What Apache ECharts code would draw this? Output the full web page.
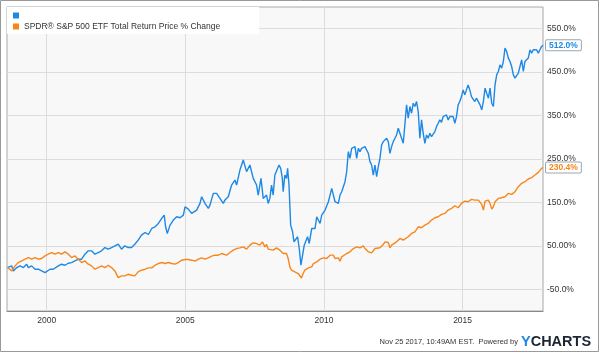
<!DOCTYPE html>
<html>
<head>
<meta charset="utf-8">
<script src="https://cdn.jsdelivr.net/npm/echarts@6/dist/echarts.min.js"></script>
<style>
  html, body { margin: 0; padding: 0; background: #fff; }
  #chart { width: 600px; height: 353px; }
</style>
</head>
<body>
<div id="chart"></div>
<script>
// series names
var blueName = ' ';
var orangeName = 'SPDR\u00ae S&P 500 ETF Total Return Price % Change';

// blue series (unnamed ticker), % change
var blueYears = [
  1998.59, 1998.62, 1998.74, 1998.80, 1998.92, 1999.04, 1999.16, 1999.28, 1999.34, 1999.46,
  1999.58, 1999.70, 1999.82, 1999.94, 2000.00, 2000.12, 2000.24, 2000.30, 2000.42, 2000.54,
  2000.66, 2000.78, 2000.90, 2001.02, 2001.14, 2001.26, 2001.38, 2001.50, 2001.62, 2001.74,
  2001.86, 2001.98, 2002.10, 2002.22, 2002.34, 2002.46, 2002.58, 2002.70, 2002.82, 2002.94,
  2003.06, 2003.18, 2003.30, 2003.42, 2003.55, 2003.67, 2003.79, 2003.91, 2004.03, 2004.15,
  2004.24, 2004.29, 2004.35, 2004.45, 2004.57, 2004.69, 2004.81, 2004.93, 2004.99, 2005.11,
  2005.23, 2005.29, 2005.41, 2005.53, 2005.59, 2005.71, 2005.83, 2005.89, 2006.01, 2006.13,
  2006.25, 2006.37, 2006.43, 2006.55, 2006.67, 2006.79, 2006.85, 2006.97, 2007.09, 2007.21,
  2007.33, 2007.45, 2007.57, 2007.63, 2007.73, 2007.81, 2007.93, 2007.99, 2008.05, 2008.11,
  2008.17, 2008.23, 2008.29, 2008.38, 2008.44, 2008.50, 2008.53, 2008.59, 2008.65, 2008.69,
  2008.74, 2008.80, 2008.87, 2008.92, 2008.99, 2009.05, 2009.11, 2009.17, 2009.23, 2009.29,
  2009.35, 2009.41, 2009.47, 2009.56, 2009.62, 2009.68, 2009.74, 2009.80, 2009.86, 2009.92,
  2009.98, 2010.04, 2010.10, 2010.16, 2010.22, 2010.28, 2010.34, 2010.40, 2010.46, 2010.52,
  2010.58, 2010.64, 2010.70, 2010.76, 2010.82, 2010.88, 2010.94, 2011.00, 2011.06, 2011.12,
  2011.18, 2011.24, 2011.30, 2011.36, 2011.42, 2011.48, 2011.54, 2011.60, 2011.66, 2011.72,
  2011.78, 2011.84, 2011.90, 2011.96, 2012.02, 2012.08, 2012.14, 2012.20, 2012.26, 2012.32,
  2012.38, 2012.44, 2012.50, 2012.56, 2012.62, 2012.68, 2012.74, 2012.80, 2012.86, 2012.92,
  2012.98, 2013.04, 2013.10, 2013.16, 2013.22, 2013.28, 2013.34, 2013.40, 2013.46, 2013.52,
  2013.58, 2013.64, 2013.70, 2013.76, 2013.82, 2013.88, 2013.94, 2014.00, 2014.06, 2014.12,
  2014.18, 2014.24, 2014.30, 2014.36, 2014.42, 2014.48, 2014.54, 2014.60, 2014.66, 2014.72,
  2014.78, 2014.84, 2014.90, 2014.96, 2015.02, 2015.08, 2015.14, 2015.20, 2015.26, 2015.32,
  2015.38, 2015.44, 2015.50, 2015.57, 2015.63, 2015.69, 2015.75, 2015.81, 2015.87, 2015.93,
  2015.99, 2016.05, 2016.11, 2016.17, 2016.23, 2016.29, 2016.35, 2016.41, 2016.47, 2016.53,
  2016.59, 2016.65, 2016.71, 2016.77, 2016.83, 2016.89, 2016.95, 2017.01, 2017.07, 2017.13,
  2017.19, 2017.25, 2017.31, 2017.37, 2017.43, 2017.49, 2017.55, 2017.61, 2017.67, 2017.73,
  2017.79, 2017.85, 2017.90
];
var blueValues = [
  0, -3.8, 3.9, -7.7, 0.0, 3.9, 0.0, 7.7, 0.0, 3.9,
  -3.8, -3.8, -7.7, -11.5, -7.7, -3.8, -3.8, 0.0, 3.9, 7.7,
  5.4, 10.0, 11.5, 15.4, 19.2, 19.2, 30.8, 38.5, 38.5, 30.8,
  34.6, 38.5, 46.1, 42.3, 46.1, 50.0, 53.8, 42.3, 50.0, 46.1,
  46.1, 53.8, 63.1, 74.7, 80.8, 76.2, 90.0, 93.9, 101.6, 113.1,
  120.8, 93.9, 78.5, 97.7, 109.3, 117.0, 114.7, 120.8, 140.0, 134.7,
  124.7, 120.8, 132.3, 147.7, 163.1, 147.7, 136.2, 143.9, 170.8, 170.8,
  159.3, 147.7, 155.4, 163.1, 190.0, 201.6, 190.0, 224.6, 247.7, 220.8,
  236.2, 205.4, 190.0, 166.9, 205.4, 159.3, 166.9, 147.7, 159.3, 190.0,
  167.0, 213.1, 217.0, 236.2, 228.5, 205.4, 174.7, 213.1, 205.4, 228.5,
  190.0, 97.8, 82.4, 59.3, 59.3, 70.9, 43.9, 5.5, 28.6, 51.6,
  55.5, 70.9, 55.5, 90.1, 93.9, 90.1, 117.0, 113.2, 101.6, 120.8,
  124.7, 132.4, 136.2, 151.6, 167.0, 182.4, 178.5, 151.6, 155.4, 147.8,
  167.0, 174.7, 170.8, 197.7, 220.8, 266.9, 251.6, 274.6, 274.6, 278.5,
  251.6, 274.6, 266.9, 274.6, 274.6, 278.5, 270.8, 263.1, 243.9, 236.2,
  213.1, 236.2, 209.3, 232.4, 251.6, 282.3, 290.0, 286.2, 297.7, 290.0,
  263.1, 278.5, 290.0, 297.7, 305.4, 320.8, 309.2, 297.7, 286.2, 290.0,
  374.6, 343.8, 370.8, 355.4, 378.5, 370.8, 382.3, 359.2, 297.7, 340.0,
  309.2, 286.2, 305.4, 297.7, 309.2, 301.6, 305.4, 313.1, 324.6, 332.3,
  340.0, 334.6, 347.7, 343.8, 351.5, 340.0, 347.7, 343.8, 347.7, 332.3,
  347.7, 374.6, 382.3, 393.8, 409.2, 397.7, 401.5, 420.7, 409.2, 393.8,
  390.0, 382.3, 390.0, 386.1, 374.6, 363.1, 382.3, 413.1, 401.5, 390.0,
  413.1, 378.5, 370.8, 420.7, 443.8, 451.5, 466.9, 459.2, 474.6, 505.3,
  497.6, 482.3, 474.6, 463.0, 443.8, 436.1, 437.7, 447.7, 463.0, 478.4,
  451.5, 474.6, 470.7, 482.3, 501.5, 493.8, 501.5, 497.6, 501.5, 493.8,
  501.5, 509.2, 512.0
];

// SPY total return, % change
var orangeYears = [
  1998.59, 1998.74, 1998.86, 1998.98, 1999.10, 1999.22, 1999.34, 1999.46, 1999.58, 1999.70,
  1999.82, 1999.94, 2000.06, 2000.18, 2000.30, 2000.42, 2000.54, 2000.66, 2000.78, 2000.90,
  2001.02, 2001.14, 2001.26, 2001.38, 2001.50, 2001.62, 2001.74, 2001.86, 2001.98, 2002.10,
  2002.22, 2002.34, 2002.46, 2002.58, 2002.70, 2002.82, 2002.94, 2003.06, 2003.18, 2003.30,
  2003.42, 2003.55, 2003.67, 2003.79, 2003.91, 2004.03, 2004.15, 2004.27, 2004.39, 2004.51,
  2004.63, 2004.75, 2004.87, 2004.99, 2005.11, 2005.23, 2005.35, 2005.47, 2005.59, 2005.71,
  2005.83, 2005.95, 2006.07, 2006.19, 2006.31, 2006.37, 2006.49, 2006.61, 2006.73, 2006.85,
  2006.97, 2007.09, 2007.21, 2007.33, 2007.45, 2007.57, 2007.69, 2007.78, 2007.87, 2007.93,
  2007.99, 2008.17, 2008.29, 2008.41, 2008.53, 2008.65, 2008.71, 2008.77, 2008.83, 2008.89,
  2008.95, 2009.01, 2009.07, 2009.13, 2009.19, 2009.25, 2009.31, 2009.38, 2009.44, 2009.50,
  2009.56, 2009.62, 2009.74, 2009.86, 2009.98, 2010.10, 2010.22, 2010.28, 2010.34, 2010.40,
  2010.46, 2010.52, 2010.58, 2010.64, 2010.70, 2010.82, 2010.94, 2011.06, 2011.18, 2011.30,
  2011.42, 2011.48, 2011.54, 2011.60, 2011.66, 2011.72, 2011.78, 2011.84, 2011.90, 2012.02,
  2012.14, 2012.20, 2012.26, 2012.32, 2012.38, 2012.44, 2012.50, 2012.62, 2012.74, 2012.86,
  2013.04, 2013.16, 2013.28, 2013.40, 2013.52, 2013.64, 2013.76, 2013.88, 2014.00, 2014.12,
  2014.24, 2014.36, 2014.48, 2014.60, 2014.72, 2014.84, 2014.96, 2015.08, 2015.20, 2015.32,
  2015.44, 2015.57, 2015.69, 2015.75, 2015.81, 2015.87, 2015.93, 2015.99, 2016.05, 2016.11,
  2016.17, 2016.29, 2016.41, 2016.53, 2016.65, 2016.77, 2016.89, 2017.01, 2017.13, 2017.25,
  2017.37, 2017.49, 2017.61, 2017.73, 2017.85, 2017.90
];
var orangeValues = [
  0, -7.7, 3.9, 11.5, 15.4, 19.2, 23.1, 19.2, 23.1, 19.2,
  20.8, 26.9, 30.8, 34.6, 30.8, 34.6, 30.8, 36.2, 30.8, 23.1,
  26.9, 19.2, 11.5, 15.4, 7.7, 3.9, -3.8, 0.0, 3.9, 0.0,
  5.4, 0.0, -7.7, -23.1, -19.2, -19.2, -15.4, -17.7, -19.2, -9.9,
  -6.1, -3.8, -0.7, -0.7, 5.5, 9.3, 11.6, 9.3, 11.6, 9.3,
  7.8, 11.6, 17.0, 18.5, 18.5, 17.0, 14.7, 19.3, 22.4, 19.3,
  22.4, 26.2, 28.5, 28.5, 32.4, 28.5, 28.5, 34.7, 40.1, 43.9,
  45.4, 47.8, 42.4, 51.6, 57.0, 55.4, 51.6, 59.3, 47.8, 53.1,
  42.4, 40.1, 45.5, 40.1, 32.4, 32.4, 20.9, 1.6, -6.0, -3.7,
  -9.9, -6.0, -13.7, -17.6, -24.0, -13.7, -6.0, -6.0, -0.7, -2.2,
  1.6, 9.3, 13.2, 19.3, 22.4, 20.9, 28.6, 24.7, 28.6, 20.9,
  17.0, 22.4, 14.7, 24.7, 28.6, 32.4, 36.2, 43.9, 47.8, 45.5,
  50.1, 43.9, 47.8, 36.2, 32.4, 33.9, 36.2, 43.9, 40.1, 45.5,
  53.2, 59.3, 55.5, 57.8, 45.5, 51.6, 55.5, 59.3, 67.0, 63.2,
  70.9, 78.5, 82.4, 93.9, 91.6, 97.8, 101.6, 109.3, 114.7, 117.0,
  122.4, 124.7, 132.4, 136.2, 142.4, 137.8, 147.8, 153.1, 151.6, 157.0,
  155.4, 155.4, 145.4, 132.4, 153.1, 155.4, 155.4, 147.8, 134.7, 140.1,
  151.6, 159.3, 160.8, 163.1, 170.8, 168.5, 174.7, 186.2, 193.9, 197.7,
  203.9, 207.0, 213.1, 219.3, 228.5, 230.4
];

// ticks
var xTickValues = [2000, 2005, 2010, 2015];
var yTickValues = [-50, 50, 150, 250, 350, 450, 550];
var yTickLabels = ['-50.0%', '50.00%', '150.0%', '250.0%', '350.0%', '450.0%', '550.0%'];

var blueColor = '#1e88e5';
var orangeColor = '#f8861c';

function zip(xs, ys) {
  return xs.map(function (x, i) { return [x, ys[i]]; });
}

var chart = echarts.init(document.getElementById('chart'), null, { renderer: 'canvas' });

function endLabel(color) {
  return {
    show: true,
    distance: 3,
    formatter: function (p) { return p.value[1].toFixed(1) + '%'; },
    color: color,
    fontSize: 8.5,
    fontWeight: 'bold',
    backgroundColor: '#fff',
    borderColor: '#9aa7b3',
    borderWidth: 1,
    borderRadius: 1,
    padding: [1, 3, 0, 3],
    lineHeight: 9
  };
}

chart.setOption({
  animation: false,
  textStyle: { fontFamily: 'Liberation Sans, Arial, sans-serif' },
  grid: {
    left: 7, right: 57, top: 7, bottom: 42,
    show: true,
    backgroundColor: '#f8f8f8',
    borderColor: '#a8a8a8',
    borderWidth: 1
  },
  legend: {
    left: 7, top: 7,
    orient: 'vertical',
    icon: 'rect',
    itemWidth: 6, itemHeight: 6, itemGap: 2,
    padding: [4, 39, 3, 6],
    backgroundColor: '#fff',
    selectedMode: false,
    textStyle: { fontSize: 8.5, color: '#333' },
    data: [blueName, orangeName]
  },
  xAxis: {
    type: 'value',
    min: 1998.57,
    max: 2017.90,
    axisLine: { show: true, onZero: false, lineStyle: { color: '#888' } },
    axisTick: { show: false, customValues: xTickValues },
    axisLabel: {
      customValues: xTickValues,
      fontSize: 8.5, color: '#333', margin: 5,
      formatter: function (v) { return String(Math.round(v)); }
    },
    splitLine: { show: true, lineStyle: { color: '#dcdcdc' } }
  },
  yAxis: {
    type: 'value',
    position: 'right',
    min: -100,
    max: 600,
    axisLine: { show: false },
    axisTick: { show: false, customValues: yTickValues },
    axisLabel: {
      customValues: yTickValues,
      fontSize: 8.5, color: '#333', margin: 4,
      formatter: function (v) { return yTickLabels[yTickValues.indexOf(v)]; }
    },
    splitLine: { show: true, lineStyle: { color: '#dcdcdc' } }
  },
  series: [
    {
      name: blueName,
      type: 'line',
      data: zip(blueYears, blueValues),
      showSymbol: false,
      color: blueColor,
      lineStyle: { width: 1.4, color: blueColor },
      endLabel: endLabel(blueColor)
    },
    {
      name: orangeName,
      type: 'line',
      data: zip(orangeYears, orangeValues),
      showSymbol: false,
      color: orangeColor,
      lineStyle: { width: 1.4, color: orangeColor },
      endLabel: endLabel(orangeColor)
    }
  ],
  graphic: [
    {
      type: 'rect',
      shape: { x: 0.5, y: 0.5, width: 598, height: 351 },
      style: { fill: 'none', stroke: '#999', lineWidth: 1 },
      silent: true
    },
    {
      type: 'text',
      style: {
        x: 518, y: 342,
        text: 'Nov 25 2017, 10:49AM EST.  Powered by',
        align: 'right', verticalAlign: 'middle',
        font: '7.5px "Liberation Sans", Arial, sans-serif',
        fill: '#333'
      },
      silent: true
    },
    {
      type: 'text',
      style: {
        x: 521, y: 342,
        text: '{y|Y}{c|CHARTS}',
        align: 'left', verticalAlign: 'middle',
        rich: {
          y: { fill: '#1e88e5', fontSize: 14.5, fontWeight: 'bold', fontFamily: 'Liberation Sans' },
          c: { fill: '#1c2633', fontSize: 14.5, fontWeight: 'bold', fontFamily: 'Liberation Sans' }
        }
      },
      silent: true
    }
  ]
});
</script>
</body>
</html>
